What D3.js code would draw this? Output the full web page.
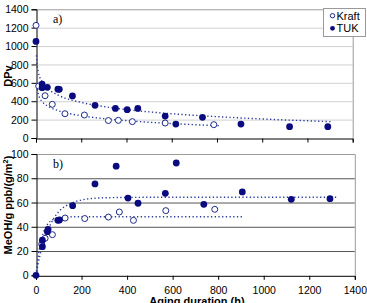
<!DOCTYPE html>
<html><head><meta charset="utf-8">
<script src="https://cdn.jsdelivr.net/npm/d3@7"></script>
<style>
html,body{margin:0;padding:0;background:#fff;}
svg{display:block;font-family:"Liberation Sans",Arial,sans-serif;}
</style></head>
<body><svg id="c" width="367" height="303"></svg>
<script>
// ---- data ----
const xTicks = [0, 200, 400, 600, 800, 1000, 1200, 1400];
const dpTicks = [0, 200, 400, 600, 800, 1000, 1200, 1400];
const meohTicks = [0, 20, 40, 60, 80, 100];
const seriesNames = ["Kraft", "TUK"];

const kraftDP_x = [0, 12, 40, 72, 128, 214, 320, 364, 426, 571, 786];
const kraftDP_y = [1225, 565, 460, 366, 264, 250, 190, 192, 178, 163, 145];
const tukDP_x = [0, 27, 27, 50, 97, 103, 161, 261, 351, 403, 450, 571, 618, 736, 906, 1121, 1290];
const tukDP_y = [1051, 587, 547, 551, 531, 529, 458, 355, 322, 308, 322, 239, 152, 225, 152, 123, 123];

const kraftMeOH_x = [25, 40, 72, 128, 214, 318, 366, 428, 570, 785];
const kraftMeOH_y = [25.6, 30.5, 33.5, 47.2, 46.8, 48, 52.2, 45.3, 53.3, 54.4];
const tukMeOH_x = [0, 28, 28, 50, 53, 96, 103, 161, 259, 352, 404, 448, 568, 616, 737, 906, 1121, 1291];
const tukMeOH_y = [0, 23.6, 28.9, 36, 37.9, 45.3, 45.6, 57.4, 75.3, 90, 63.7, 59.4, 67.6, 92.6, 58.5, 68.7, 62.6, 63.2];

// trend lines (dotted)
const tukDPTrend_x = [2, 5, 10, 25, 50, 100, 200, 300, 450, 600, 800, 1000, 1200, 1310];
const tukDPTrend_y = [900, 800, 721, 619, 542, 464, 387, 342, 296, 264, 232, 207, 187, 177];
const kraftDPTrend_x = [5, 15, 30, 60, 100, 200, 300, 400, 550, 700, 811];
const kraftDPTrend_y = [530, 443, 389, 336, 296, 242, 211, 189, 164, 145, 134];
const tukMeOHTrend_x = [0, 10, 25, 50, 75, 100, 150, 200, 300, 500, 1320];
const tukMeOHTrend_y = [0, 9.9, 22.3, 36.0, 46.0, 52.5, 59.0, 62.1, 63.9, 64.3, 64.3];
const kraftMeOHTrend_x = [0, 10, 25, 50, 75, 100, 150, 200, 911];
const kraftMeOHTrend_y = [0, 16, 30.5, 41.8, 45.9, 47.4, 48.2, 48.3, 48.3];

// ---- drawing ----
const svg = d3.select("#c");
const navy = "#0b0b80";
const trendColor = "#2a3a9c";

function zip(xs, ys){ return xs.map((x,i)=>[x, ys[i]]); }

function panel(opt){
  const x = d3.scaleLinear().domain([0,1400]).range([opt.x0, opt.x1]);
  const y = d3.scaleLinear().domain(opt.ydom).range([opt.y0, opt.y1]);
  const g = svg.append("g");
  // gridlines
  g.append("g").selectAll("line").data(opt.yticks.filter(v=>v>opt.ydom[0] && v<opt.ydom[1]))
    .join("line").attr("x1", opt.x0).attr("x2", opt.x1)
    .attr("y1", d=>y(d)+0.5).attr("y2", d=>y(d)+0.5)
    .attr("stroke", opt.gridColor).attr("stroke-width", 1);
  // top & right border
  g.append("path").attr("d", `M${opt.x0},${y(opt.ydom[1])+0.5}H${opt.x1+0.5}V${opt.y0}`)
    .attr("fill","none").attr("stroke","#9a9a9a");
  // axes
  const ax = g.append("g").attr("transform", `translate(0,${opt.y0+0.5})`)
    .call(d3.axisBottom(x).tickValues(xTicks).tickSize(4).tickFormat(opt.showXLabels ? d3.format("d") : ""));
  const ay = g.append("g").attr("transform", `translate(${opt.x0+0.5},0)`)
    .call(d3.axisLeft(y).tickValues(opt.yticks).tickSize(5).tickPadding(3).tickFormat(d3.format("d")));
  [ax, ay].forEach(a=>{
    a.select(".domain").attr("stroke","#000");
    a.selectAll(".tick line").attr("stroke","#000");
    a.selectAll("text").attr("font-family","Liberation Sans, Arial, sans-serif").attr("font-size","10.5px").attr("fill","#000");
  });
  ax.selectAll("text").attr("dy","1.05em");
  ay.selectAll("text").attr("dy","0.35em");
  // trend lines
  const line = d3.line().x(d=>x(d[0])).y(d=>y(d[1])).curve(d3.curveMonotoneX);
  opt.trends.forEach(t=>{
    g.append("path").datum(t).attr("d", line).attr("fill","none")
      .attr("stroke", trendColor).attr("stroke-width", 1.4)
      .attr("stroke-dasharray","1.3,2.4");
  });
  // markers
  g.append("g").selectAll("circle").data(opt.open).join("circle")
    .attr("cx", d=>x(d[0])).attr("cy", d=>y(d[1])).attr("r", 3)
    .attr("fill","#fff").attr("stroke", "#1c2a8a").attr("stroke-width", 1);
  g.append("g").selectAll("circle").data(opt.filled).join("circle")
    .attr("cx", d=>x(d[0])).attr("cy", d=>y(d[1])).attr("r", 3.4)
    .attr("fill", navy);
  // panel letter
  g.append("text").attr("x", opt.x0+17).attr("y", y(opt.ydom[1])+14)
    .attr("font-family","Liberation Serif, Times New Roman, serif").attr("font-size","12px").text(opt.letter);
  return {x, y};
}

panel({x0:36, x1:352.7, y0:138, y1:9.3, ydom:[0,1400], yticks:dpTicks, gridColor:"#d0d0d0",
  showXLabels:false, letter:"a)",
  trends:[zip(tukDPTrend_x, tukDPTrend_y), zip(kraftDPTrend_x, kraftDPTrend_y)],
  open: zip(kraftDP_x, kraftDP_y), filled: zip(tukDP_x, tukDP_y)});

panel({x0:36, x1:354.8, y0:275.3, y1:154, ydom:[0,100], yticks:meohTicks, gridColor:"#555",
  showXLabels:true, letter:"b)",
  trends:[zip(tukMeOHTrend_x, tukMeOHTrend_y), zip(kraftMeOHTrend_x, kraftMeOHTrend_y)],
  open: zip(kraftMeOH_x, kraftMeOH_y), filled: zip(tukMeOH_x, tukMeOH_y)});

// axis titles
svg.append("text").attr("transform","translate(12,76) rotate(-90)").attr("text-anchor","middle")
  .attr("font-weight","bold").attr("font-size","11px").text("DPv");
const t2 = svg.append("text").attr("transform","translate(12,205) rotate(-90)").attr("text-anchor","middle")
  .attr("font-weight","bold").attr("font-size","11px");
t2.append("tspan").text("MeOH/g ppb/(g/m");
t2.append("tspan").attr("font-size","7.5px").attr("dy","-4").text("2");
t2.append("tspan").attr("dy","4").text(")");
svg.append("text").attr("x",197).attr("y",305).attr("text-anchor","middle")
  .attr("font-weight","bold").attr("font-size","11px").text("Aging duration (h)");

// legend
const lg = svg.append("g");
lg.append("rect").attr("x",323.5).attr("y",8.5).attr("width",42).attr("height",28)
  .attr("fill","#fff").attr("stroke","#9a9a9a");
seriesNames.forEach((name,i)=>{
  const cy = 15.7 + i*12.6;
  if(i===0) lg.append("circle").attr("cx",332.5).attr("cy",cy).attr("r",2.2).attr("fill","#fff").attr("stroke","#1c2a8a");
  else lg.append("circle").attr("cx",332.5).attr("cy",cy).attr("r",2.4).attr("fill",navy);
  lg.append("text").attr("x",336.5).attr("y",cy+3.8).attr("font-size","11px").text(name);
});
</script></body></html>
